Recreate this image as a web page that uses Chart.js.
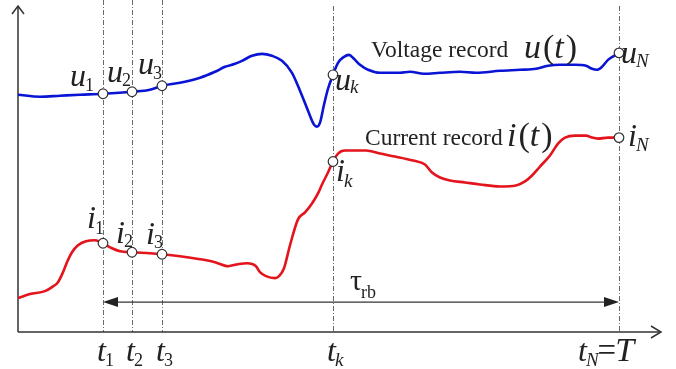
<!DOCTYPE html>
<html><head><meta charset="utf-8">
<script src="https://cdn.jsdelivr.net/npm/chart.js@4"></script>
<style>html,body{margin:0;padding:0;background:#fff;overflow:hidden}#c{display:block}</style>
</head><body><canvas id="c" width="676" height="369"></canvas>
<script>
// ---- data (time in arbitrary sample units, amplitude in arbitrary units) ----
const timeTicks = [85, 114, 144, 315, 601];          // t1, t2, t3, tk, tN
const tickNames = ['1', '2', '3', 'k', 'N'];
const voltageT = [0,22,42,62,85,114,132,144,162,182,197,207,217,224,234,244,254,264,274,282,290,296,299,302,306,310,315,320,326,331,336,342,350,362,382,392,406,422,442,458,482,502,518,530,542,557,568,574,579,584,590,596,601];
const voltageV = [238,236,237,238,239,241,243,247,250,255,261,266,269,272,277,279,277,272,260,242,222,208,206,210,228,244,258,270,276,278,274,268,263,260,260,261,259,260,261,260,262,263,264,267,268,268,267,264,263,266,273,277,280];
const currentT = [0,12,27,34,40,45,49,54,60,68,77,85,94,102,114,132,144,162,182,197,210,220,229,238,242,248,257,261,266,272,280,287,294,300,304,310,315,320,327,348,362,377,395,407,414,422,432,447,462,482,498,507,514,522,532,540,547,557,568,574,580,590,601];
const currentV = [34,38,41,45,50,60,70,80,87,91,92,89,84,81,80,79,78,76,73,70,66,68,69,66,60,56,54,56,64,87,113,120,129,139,148,160,171,179,182,182,179,176,172,168,160,155,152,150,148,146,147,151,157,166,177,189,195,197,197,195,194,195,195];
const tauLevel = 30;
const xMax = 643, yMax = 327;

const toXY = (ts, vs) => ts.map((t, i) => ({x: t, y: vs[i]}));
const markerPts = [];
timeTicks.forEach(t => {
  markerPts.push({x: t, y: voltageV[voltageT.indexOf(t)]});
  markerPts.push({x: t, y: currentV[currentT.indexOf(t)]});
});

const SERIF = '"Liberation Serif", "Times New Roman", serif';
const F_MAIN = 'italic 32px ' + SERIF;
const F_SUB_UP = '18px ' + SERIF;
const F_SUB_IT = 'italic 19px ' + SERIF;

function drawSub(ctx, x, y, main, sub, mainFont, subFont, subDy) {
  ctx.font = mainFont;
  ctx.fillText(main, x, y);
  const w = ctx.measureText(main).width;
  ctx.font = subFont;
  ctx.fillText(sub, x + w - 1, y + subDy);
  return w + ctx.measureText(sub).width;
}

const decor = {
  id: 'decor',
  beforeDatasetsDraw(chart) {
    const {ctx, scales: {x, y}} = chart;
    const x0 = x.getPixelForValue(0), y0 = y.getPixelForValue(0);
    const xEnd = x.getPixelForValue(xMax), yTop = y.getPixelForValue(yMax);
    ctx.save();
    // dashed verticals
    ctx.strokeStyle = '#6a6a6a'; ctx.lineWidth = 1;
    ctx.setLineDash([5, 2, 1, 2]);
    timeTicks.forEach((t, i) => {
      const px = Math.round(x.getPixelForValue(t)) + 0.5;
      ctx.beginPath();
      ctx.moveTo(px, i < 3 ? 0 : yTop);
      ctx.lineTo(px, y0);
      ctx.stroke();
    });
    ctx.setLineDash([]);
    // axes
    ctx.strokeStyle = '#333'; ctx.lineWidth = 1.5;
    ctx.beginPath();
    ctx.moveTo(x0, y0); ctx.lineTo(x0, yTop);
    ctx.moveTo(x0, y0); ctx.lineTo(xEnd, y0);
    ctx.stroke();
    ctx.beginPath();
    ctx.moveTo(x0 - 6, yTop + 8); ctx.lineTo(x0, yTop); ctx.lineTo(x0 + 6, yTop + 8);
    ctx.moveTo(xEnd - 10, y0 - 6); ctx.lineTo(xEnd, y0); ctx.lineTo(xEnd - 10, y0 + 6);
    ctx.stroke();
    // tau double arrow
    const ax1 = x.getPixelForValue(timeTicks[0]), ax2 = x.getPixelForValue(timeTicks[4]);
    const ay = y.getPixelForValue(tauLevel);
    ctx.lineWidth = 1.2;
    ctx.beginPath(); ctx.moveTo(ax1 + 8, ay); ctx.lineTo(ax2 - 8, ay); ctx.stroke();
    ctx.fillStyle = '#222';
    ctx.beginPath(); ctx.moveTo(ax1, ay); ctx.lineTo(ax1 + 15, ay - 5); ctx.lineTo(ax1 + 15, ay + 5); ctx.closePath(); ctx.fill();
    ctx.beginPath(); ctx.moveTo(ax2, ay); ctx.lineTo(ax2 - 15, ay - 5); ctx.lineTo(ax2 - 15, ay + 5); ctx.closePath(); ctx.fill();
    ctx.restore();
  },
  afterDatasetsDraw(chart) {
    const {ctx, scales: {x, y}} = chart;
    ctx.save();
    ctx.fillStyle = '#222';
    ctx.textBaseline = 'alphabetic';
    const uOff = [[-33, -8, 5], [-25, -10, 4], [-24, -12, 5], [2, 15, 3], [2, 10, 4]];
    const iOff = [[-16, -15, 6], [-16, -9, 4], [-16, -10, 4], [3, 19, 6], [9, 8, 5]];
    timeTicks.forEach((t, i) => {
      const px = x.getPixelForValue(t);
      const subF = /\d/.test(tickNames[i]) ? F_SUB_UP : F_SUB_IT;
      const pu = y.getPixelForValue(voltageV[voltageT.indexOf(t)]);
      const pi = y.getPixelForValue(currentV[currentT.indexOf(t)]);
      drawSub(ctx, px + uOff[i][0], pu + uOff[i][1], 'u', tickNames[i], F_MAIN, subF, uOff[i][2]);
      drawSub(ctx, px + iOff[i][0], pi + iOff[i][1], 'i', tickNames[i], F_MAIN, subF, iOff[i][2]);
      // time labels
      const by = y.getPixelForValue(0) + 29;
      if (i < 4) {
        drawSub(ctx, px - 6, by, 't', tickNames[i], F_MAIN, subF, 5);
      } else {
        const w = drawSub(ctx, px - 41, by, 't', 'N', F_MAIN, F_SUB_IT, 5);
        ctx.font = '33px ' + SERIF;
        ctx.fillText('=', px - 41 + w - 2, by);
        const we = ctx.measureText('=').width;
        ctx.font = 'italic 34px ' + SERIF;
        ctx.fillText('T', px - 41 + w - 3 + we, by);
      }
    });
    // series captions
    ctx.font = '23.5px ' + SERIF;
    ctx.fillText('Voltage record', 371, 57);
    ctx.fillText('Current record', 365, 145);
    function fn(x0, y0, letter) {
      ctx.font = 'italic 34px ' + SERIF; ctx.fillText(letter, x0, y0);
      let cx = x0 + ctx.measureText(letter).width + 2;
      ctx.font = '34px ' + SERIF; ctx.fillText('(', cx, y0); cx += ctx.measureText('(').width;
      ctx.font = 'italic 34px ' + SERIF; ctx.fillText('t', cx, y0); cx += ctx.measureText('t').width + 2;
      ctx.font = '34px ' + SERIF; ctx.fillText(')', cx, y0);
    }
    fn(524, 58, 'u');
    fn(507, 146, 'i');
    // tau label
    ctx.font = '30px ' + SERIF; ctx.fillText('τ', 350, 290);
    const wt = ctx.measureText('τ').width;
    ctx.font = '18px ' + SERIF; ctx.fillText('rb', 350 + wt - 1, 298);
    ctx.restore();
  }
};

new Chart(document.getElementById('c'), {
  type: 'line',
  data: {
    datasets: [
      {data: markerPts, showLine: false, pointRadius: 4.8, pointBackgroundColor: '#fff', pointBorderColor: '#333', pointBorderWidth: 1.2, order: -1},
      {data: toXY(voltageT, voltageV), borderColor: '#0a14d4', borderWidth: 2.6, pointRadius: 0, cubicInterpolationMode: 'monotone', fill: false},
      {data: toXY(currentT, currentV), borderColor: '#e4141c', borderWidth: 2.6, pointRadius: 0, cubicInterpolationMode: 'monotone', fill: false}
    ]
  },
  options: {
    responsive: false, animation: false, devicePixelRatio: 1,
    layout: {padding: {left: 18, right: 15, top: 5, bottom: 37}},
    scales: {
      x: {type: 'linear', min: 0, max: xMax, display: false},
      y: {type: 'linear', min: 0, max: yMax, display: false}
    },
    plugins: {legend: {display: false}, tooltip: {enabled: false}},
    elements: {line: {clip: false}},
    clip: false
  },
  plugins: [decor]
});
</script>
</body></html>
